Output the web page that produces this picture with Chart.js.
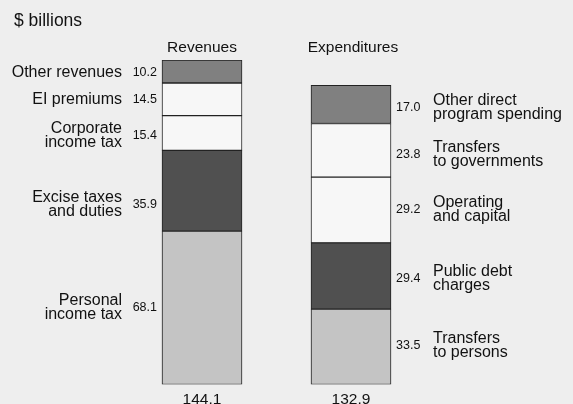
<!DOCTYPE html>
<html>
<head>
<meta charset="utf-8">
<script src="https://cdn.jsdelivr.net/npm/chart.js@4"></script>
<style>
  html, body { margin: 0; padding: 0; background: #eeeeee; }
  canvas { display: block; }
</style>
</head>
<body>
<canvas id="c" width="573" height="404"></canvas>
<script>
// ---- data (bottom segment first) ----
const categories = ['Revenues', 'Expenditures'];
const revenueLabels = [['Personal', 'income tax'], ['Excise taxes', 'and duties'], ['Corporate', 'income tax'], ['EI premiums'], ['Other revenues']];
const revenueValues = [68.1, 35.9, 15.4, 14.5, 10.2];
const expenditureLabels = [['Transfers', 'to persons'], ['Public debt', 'charges'], ['Operating', 'and capital'], ['Transfers', 'to governments'], ['Other direct', 'program spending']];
const expenditureValues = [33.5, 29.4, 29.2, 23.8, 17.0];
const totals = [144.1, 132.9];
const unitLabel = '$ billions';

// ---- styles ----
const levelColors = ['#c4c4c4', '#505050', '#f7f7f7', '#f7f7f7', '#808080'];
const revNudge = [0, 14, 3, 0, 1];
const expNudge = [-1.5, 3, 0, 4, 3];
const FONT = '"Liberation Sans", Arial, Helvetica, sans-serif';
const TEXT = '#111111';

const datasets = revenueValues.map((v, i) => ({
  data: [v, expenditureValues[i]],
  backgroundColor: levelColors[i],
  borderColor: '#222222',
  borderWidth: 1,
  borderSkipped: false,
  barThickness: 80
}));

const labelPlugin = {
  id: 'labels',
  afterDatasetsDraw(chart) {
    const ctx = chart.ctx;
    const xs = chart.scales.x, ys = chart.scales.y;
    ctx.save();
    ctx.fillStyle = TEXT;
    // unit
    ctx.font = '17.5px ' + FONT;
    ctx.textAlign = 'left';
    ctx.textBaseline = 'alphabetic';
    ctx.fillText(unitLabel, 14, 26);
    // category titles and totals
    categories.forEach((c, j) => {
      const x = xs.getPixelForValue(j);
      ctx.font = '15.5px ' + FONT;
      ctx.textAlign = 'center';
      ctx.textBaseline = 'alphabetic';
      ctx.fillText(c, x + (j === 1 ? 2 : 0), 52);
      ctx.fillText(totals[j].toFixed(1), x, ys.getPixelForValue(0) + 19.5);
    });
    // segment labels
    chart.data.datasets.forEach((ds, i) => {
      const meta = chart.getDatasetMeta(i);
      meta.data.forEach((el, j) => {
        const left = el.x - el.width / 2, right = el.x + el.width / 2;
        const isRev = j === 0;
        const cy = (el.y + el.base) / 2 + (isRev ? revNudge[i] : expNudge[i]);
        const lines = isRev ? revenueLabels[i] : expenditureLabels[i];
        const val = ds.data[j].toFixed(1);
        ctx.textBaseline = 'middle';
        ctx.font = '12.5px ' + FONT;
        ctx.textAlign = isRev ? 'right' : 'left';
        ctx.fillText(val, isRev ? left - 5 : right + 5, cy);
        ctx.font = '16px ' + FONT;
        const lh = 13.8;
        const nx = isRev ? left - 40 : right + 42;
        lines.forEach((t, k) => {
          const y = cy + (k - (lines.length - 1) / 2) * lh;
          ctx.fillText(t, nx, y);
        });
      });
    });
    ctx.restore();
  }
};

new Chart(document.getElementById('c'), {
  type: 'bar',
  data: { labels: categories, datasets },
  options: {
    responsive: false,
    animation: false,
    devicePixelRatio: 1,
    layout: { padding: { left: 127.5, right: 147.5, top: 60, bottom: 19.5 } },
    plugins: { legend: { display: false }, tooltip: { enabled: false } },
    scales: {
      x: { stacked: true, display: false },
      y: { stacked: true, display: false, min: 0, max: Math.max(...totals) }
    }
  },
  plugins: [labelPlugin]
});
</script>
</body>
</html>
